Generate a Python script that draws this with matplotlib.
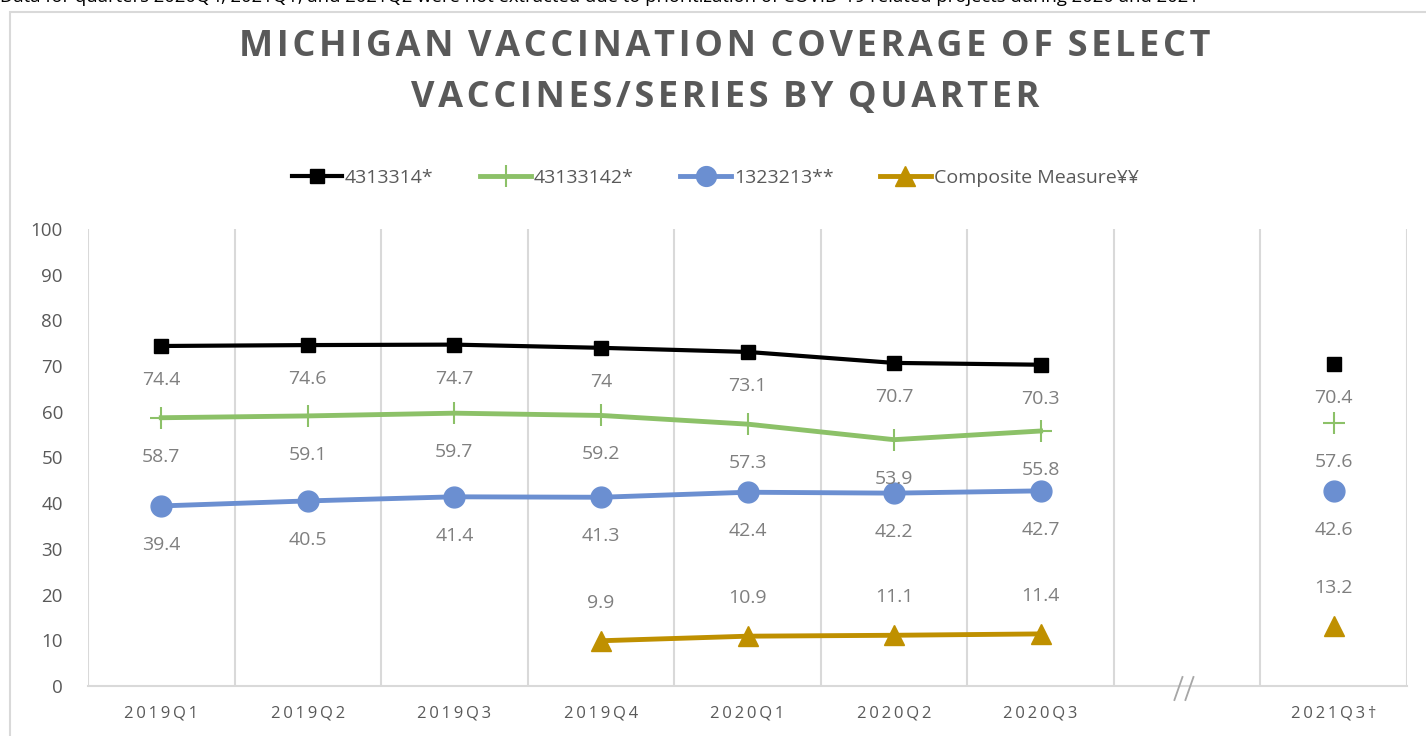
import matplotlib
matplotlib.use("Agg")
import matplotlib.pyplot as plt
import numpy as np

plt.rcParams['font.family'] = ['Open Sans', 'DejaVu Sans']

categories = ["2019Q1", "2019Q2", "2019Q3", "2019Q4", "2020Q1", "2020Q2", "2020Q3", "", "2021Q3\u2020"]
s_4313314 = [74.4, 74.6, 74.7, 74.0, 73.1, 70.7, 70.3, None, 70.4]
s_43133142 = [58.7, 59.1, 59.7, 59.2, 57.3, 53.9, 55.8, None, 57.6]
s_1323213 = [39.4, 40.5, 41.4, 41.3, 42.4, 42.2, 42.7, None, 42.6]
s_composite = [None, None, None, 9.9, 10.9, 11.1, 11.4, None, 13.2]
labels = ["4313314*", "43133142*", "1323213**", "Composite Measure\u00a5\u00a5"]
label_fmt = {74.0: "74"}
title_lines = ["MICHIGAN VACCINATION COVERAGE OF SELECT", "VACCINES/SERIES BY QUARTER"]
note = ("Data for quarters 2020Q4, 2021Q1, and 2021Q2 were not extracted due to prioritization "
        "of COVID-19 related projects during 2020 and 2021")

W, H = 1426, 736
fig = plt.figure(figsize=(W / 100, H / 100), dpi=100)
ax = fig.add_axes([88 / W, 50 / H, (1407 - 88) / W, (686 - 229) / H])

grey = "#595959"
lab_grey = "#7f7f7f"
grid_c = "#d9d9d9"

series = [
    (s_4313314, "#000000", "s", 10, 3.0, -34, labels[0], dict()),
    (s_43133142, "#8cc168", "+", 16, 3.5, -39, labels[1], dict(markeredgewidth=1.5)),
    (s_1323213, "#6b8fd1", "o", 15, 3.5, -39, labels[2], dict()),
    (s_composite, "#bf9000", "^", 15, 3.5, 38, labels[3], dict()),
]

x_all = np.arange(len(categories))
handles = []
for vals, col, mk, ms, lw, off, lab, extra in series:
    xs = [x for x, v in zip(x_all, vals) if v is not None and x <= 6]
    ys = [v for x, v in zip(x_all, vals) if v is not None and x <= 6]
    h, = ax.plot(xs, ys, color=col, lw=lw, marker=mk, markersize=ms,
                 markerfacecolor=col, markeredgecolor=col, label=lab, zorder=3, **extra)
    ax.plot([8], [vals[8]], color=col, lw=0, marker=mk, markersize=ms,
            markerfacecolor=col, markeredgecolor=col, zorder=3, **extra)
    handles.append(h)
    for x, v in zip(x_all, vals):
        if v is None:
            continue
        txt = label_fmt.get(v, f"{v:.1f}")
        ax.annotate(txt, (x, v), xytext=(0, off * 0.72), textcoords="offset points",
                    ha="center", va="center", fontsize=14, color=lab_grey, zorder=4)

ax.set_xlim(-0.5, len(categories) - 0.5)
ax.set_ylim(0, 100)
ax.set_yticks(np.arange(0, 101, 10))
ax.set_xticks(x_all)
spaced = ["\u2009".join(c) if c else "" for c in categories]
ax.set_xticklabels(spaced, fontsize=12, color=grey)
ax.tick_params(axis="both", length=0, labelsize=13, colors=grey)
ax.tick_params(axis="x", pad=14, labelsize=12)
ax.tick_params(axis="y", pad=18)
for lbl in ax.get_yticklabels():
    lbl.set_fontsize(13.5)
for sp in ["top", "right", "left"]:
    ax.spines[sp].set_visible(False)
ax.spines["bottom"].set_color(grid_c)
ax.spines["bottom"].set_linewidth(1.5)
for gx in np.arange(-0.5, len(categories), 1.0):
    ax.axvline(gx, color=grid_c, lw=1.5, zorder=1)

# axis break mark
ax.plot([6.913, 6.968], [-3.06, 1.97], color="#a6a6a6", lw=1.3, clip_on=False, zorder=5)
ax.plot([6.988, 7.043], [-3.06, 1.97], color="#a6a6a6", lw=1.3, clip_on=False, zorder=5)


def spaced_title(s):
    words = s.split(" ")
    return "\u2009\u2009".join("\u200a".join(w) for w in words)


fig.text(0.5085, 1 - 47 / H, spaced_title(title_lines[0]),
         ha="center", va="center", fontsize=26, fontweight="bold", color=grey)
fig.text(0.5085, 1 - 98 / H, spaced_title(title_lines[1]),
         ha="center", va="center", fontsize=26, fontweight="bold", color=grey)

fig.legend(handles=handles, loc="center", bbox_to_anchor=(0.5015, 1 - 178 / H), ncol=4,
           frameon=False, fontsize=14, labelcolor=grey, handlelength=2.6,
           columnspacing=2.4, handletextpad=0.15, markerscale=0.95)

fig.text(0.0, 1 + 3 / H, note, ha="left", va="center", fontsize=13.3, color="#000000")

# frame
fig.patches.append(plt.Rectangle((10 / W, -0.01), 1.5, 1 - 12 / H + 0.01, transform=fig.transFigure,
                                 fill=False, edgecolor=grid_c, lw=1.5))

fig.savefig("out.png", dpi=100, facecolor="white")
